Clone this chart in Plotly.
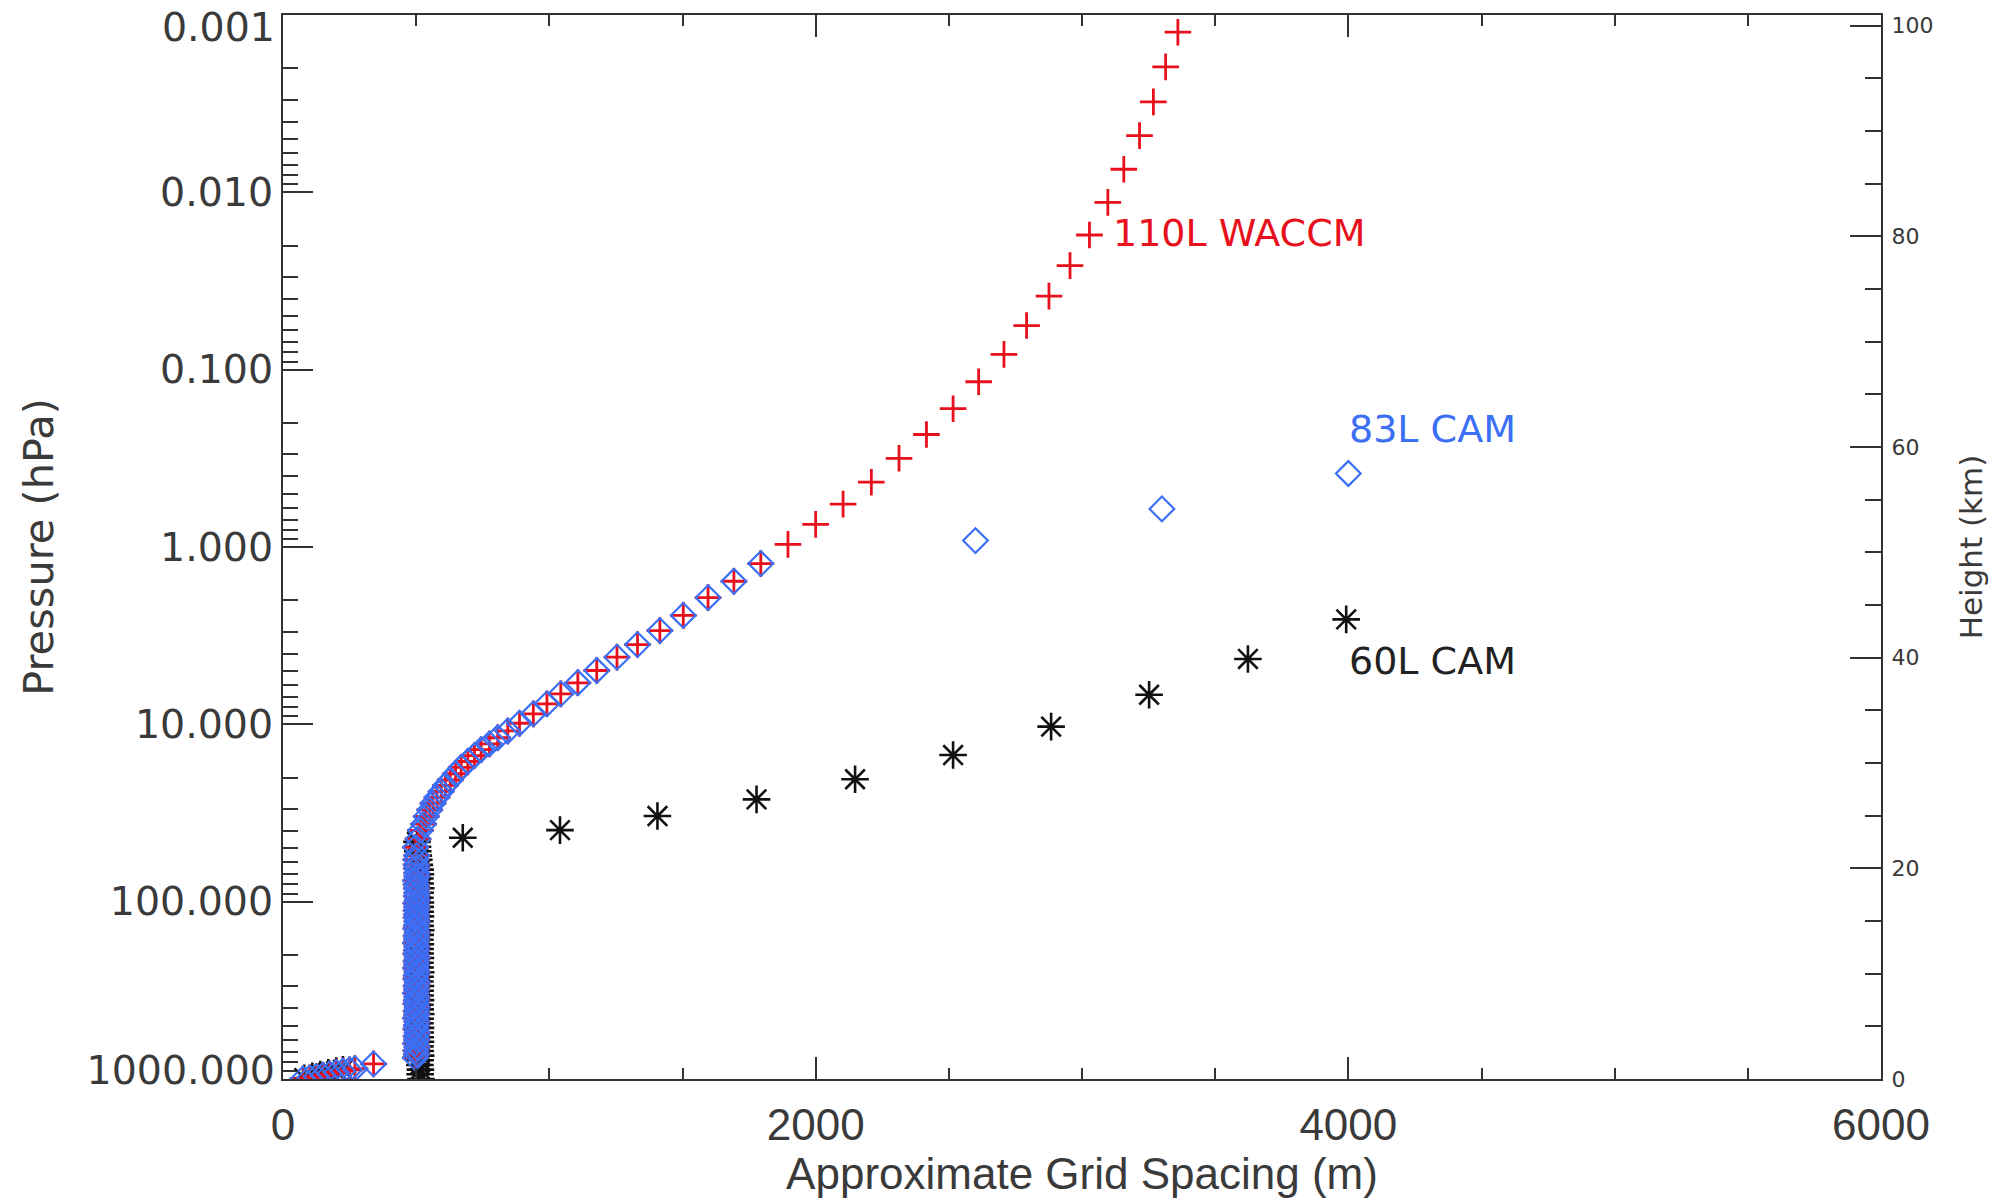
import math
import plotly.graph_objects as go

# ---------------- data ----------------
# levels shared by 110L WACCM and 83L CAM (surface -> ~1.2 hPa)
shared_x = [75, 100, 125, 150, 175, 200, 225, 250, 270, 340,
            497, 501, 499, 503, 498, 502, 500, 504, 499, 501,
            503, 498, 502, 500, 504, 499, 501, 503, 498, 502,
            500, 504, 499, 501, 503, 498, 502, 500, 504, 499,
            501, 503, 498, 502, 500, 504, 499, 501, 503, 500,
            502, 504, 501, 503, 500, 502,
            498, 507, 516, 528, 538, 551, 563, 578, 594, 610,
            628, 648, 669, 694, 719, 744, 775, 806, 844, 888,
            940, 991, 1043, 1107, 1178, 1254, 1331, 1415, 1503, 1596,
            1693, 1794]
shared_p = [1000, 985, 969, 952, 935, 918, 902, 887, 874, 822,
            760, 725, 692, 660, 630, 601, 574, 548, 523, 499,
            476, 454, 434, 414, 395, 377, 360, 344, 328, 313,
            299, 285, 272, 260, 248, 237, 226, 216, 206, 197,
            188, 179, 171, 163, 156, 149, 142, 136, 129, 123,
            118, 98, 84, 72, 62, 55,
            49.4, 44.3, 39.7, 36.5, 33.1, 30.4, 27.9, 25.8, 23.9, 22.1,
            20.6, 19.0, 17.5, 16.2, 15.0, 13.9, 12.9, 11.9, 10.9, 9.86,
            8.73, 7.66, 6.73, 5.83, 4.97, 4.18, 3.55, 2.96, 2.43, 1.93,
            1.56, 1.24]

# extra levels inside the 500 m band (upper troposphere / lower stratosphere)
band_x = [500, 502, 499, 501, 503, 500, 498, 502, 501, 499]
band_p = [112, 107, 102, 93, 89, 80, 76, 69, 65, 58]

# upper levels of 110L WACCM only
waccm_top_x = [1896, 2000, 2103, 2209, 2313, 2416, 2516, 2612, 2707, 2792,
               2876, 2955, 3028, 3097, 3157, 3216, 3268, 3314, 3360]
waccm_top_p = [0.966, 0.745, 0.573, 0.431, 0.316, 0.232, 0.166, 0.117, 0.082, 0.0564,
               0.0385, 0.0259, 0.0174, 0.0114, 0.00741, 0.00479, 0.00309, 0.00196, 0.00125]

# upper levels of 83L CAM only
cam83_top_x = [2600, 3300, 4000]
cam83_top_p = [0.92, 0.61, 0.385]

# 60L CAM
cam60_x = [80, 110, 140, 170, 200, 225,
           518, 515, 516, 514, 515, 517, 515, 514, 516, 515,
           515, 516, 514, 515, 517, 515, 514, 516, 515, 515,
           516, 514, 515, 517, 515, 514, 516, 515, 515, 516,
           514, 515, 517, 515, 514, 516, 515, 515, 516, 514,
           515, 517, 515, 514, 516, 515, 512, 510, 508, 506,
           505, 503,
           675, 1040, 1406, 1778, 2148, 2516, 2884, 3252, 3623, 3992]
cam60_p = [990, 966, 944, 922, 902, 886,
           1000, 940, 885, 833, 784, 738, 695, 655, 617, 581,
           547, 515, 485, 457, 430, 405, 381, 359, 338, 318,
           299, 282, 265, 250, 235, 221, 208, 196, 185, 174,
           164, 154, 145, 137, 129, 121, 114, 107, 101, 95,
           89, 84, 79, 74, 70, 66, 62, 58, 55, 52,
           49, 46,
           43.6, 39.5, 32.9, 26.5, 20.4, 14.9, 10.3, 6.81, 4.28, 2.56]

pressure_ticks = [0.001, 0.01, 0.1, 1, 10, 100, 1000]
pressure_ticktext = ["", "0.010", "0.100", "1.000", "10.000", "100.000", ""]
top_label = "0.001"
bottom_label = "1000.000"

labels = ["110L WACCM", "83L CAM", "60L CAM"]
label_x = [3110, 3995, 3995]
label_p = [0.0170, 0.217, 4.37]

# ---------------- styling ----------------
RED = "#e8101c"
BLUE = "#3b6ff5"
BLACK = "#111111"
AXIS = "#333333"
TXT = "#3a3a3a"
YFONT = dict(family="DejaVu Sans", size=39.5, color=TXT)

waccm_x = shared_x + band_x + waccm_top_x
waccm_p = shared_p + band_p + waccm_top_p
cam83_x = shared_x + band_x + cam83_top_x
cam83_p = shared_p + band_p + cam83_top_p

fig = go.Figure()
fig.add_trace(go.Scatter(x=cam60_x, y=cam60_p, mode="markers", name=labels[2],
                         marker=dict(symbol="asterisk-open", size=23, color=BLACK,
                                     line=dict(color=BLACK, width=2.6))))
fig.add_trace(go.Scatter(x=waccm_x, y=waccm_p, mode="markers", name=labels[0],
                         marker=dict(symbol="cross-thin-open", size=19, color=RED,
                                     line=dict(color=RED, width=2.8))))
fig.add_trace(go.Scatter(x=cam83_x, y=cam83_p, mode="markers", name=labels[1],
                         marker=dict(symbol="diamond-open", size=19, color=BLUE,
                                     line=dict(color=BLUE, width=2.2))))
# empty traces to activate the extra axes
for ax in ["y2", "y3", "y4"]:
    fig.add_trace(go.Scatter(x=[], y=[], yaxis=ax, showlegend=False, hoverinfo="skip"))

label_colors = [RED, BLUE, "#222222"]
for t, lx, lp, c in zip(labels, label_x, label_p, label_colors):
    fig.add_annotation(x=lx, y=math.log10(lp), xref="x", yref="y", text=t,
                       showarrow=False, xanchor="left", yanchor="middle",
                       font=dict(family="DejaVu Sans", size=38, color=c))

minor_p = [m * 10 ** k for k in range(-3, 3) for m in range(2, 10)]

edge_axis = dict(overlaying="y", side="left", type="log", range=[3, -3],
                 tickmode="array", ticks="", showline=False, showgrid=False,
                 zeroline=False, automargin=False, tickfont=YFONT,
                 ticklabelstandoff=7, ticklabeloverflow="allow")

fig.update_layout(
    width=2001, height=1198,
    margin=dict(l=283, r=120, t=15, b=119, autoexpand=False),
    paper_bgcolor="white", plot_bgcolor="white",
    showlegend=False,
    xaxis=dict(
        range=[0, 6000], tickmode="linear", tick0=0, dtick=2000,
        ticks="inside", ticklen=22, tickwidth=2, tickcolor=AXIS,
        minor=dict(tickmode="linear", tick0=0, dtick=500, ticks="inside",
                   ticklen=11, tickwidth=2, tickcolor=AXIS),
        showline=True, linecolor=AXIS, linewidth=2, mirror="ticks",
        showgrid=False, zeroline=False, automargin=False,
        tickfont=dict(family="Liberation Sans", size=44, color=TXT),
        ticklabelstandoff=6, ticklabeloverflow="allow",
        title=dict(text="Approximate Grid Spacing (m)", standoff=11,
                   font=dict(family="Liberation Sans", size=44, color=TXT)),
    ),
    yaxis=dict(
        type="log", range=[3, -3],
        tickmode="array", tickvals=pressure_ticks, ticktext=pressure_ticktext,
        ticks="inside", ticklen=30, tickwidth=2, tickcolor=AXIS,
        minor=dict(tickmode="array", tickvals=minor_p, ticks="inside",
                   ticklen=15, tickwidth=2, tickcolor=AXIS),
        showline=True, linecolor=AXIS, linewidth=2, mirror=False,
        showgrid=False, zeroline=False, automargin=False,
        tickfont=YFONT,
        ticklabelstandoff=0, ticklabeloverflow="allow",
        title=dict(text="Pressure (hPa)", standoff=43,
                   font=dict(family="DejaVu Sans", size=41.5, color=TXT)),
    ),
    yaxis3=dict(edge_axis, tickvals=[pressure_ticks[0]], ticktext=[top_label],
                ticklabelshift=-12),
    yaxis4=dict(edge_axis, tickvals=[pressure_ticks[-1]], ticktext=[bottom_label],
                ticklabelshift=9),
    yaxis2=dict(
        overlaying="y", side="right", range=[0, 101],
        tickmode="linear", tick0=0, dtick=20,
        ticks="inside", ticklen=31, tickwidth=2, tickcolor=AXIS,
        minor=dict(tickmode="linear", tick0=0, dtick=5, ticks="inside",
                   ticklen=16, tickwidth=2, tickcolor=AXIS),
        showline=True, linecolor=AXIS, linewidth=2,
        showgrid=False, zeroline=False, automargin=False,
        tickfont=dict(family="DejaVu Sans", size=22, color=TXT),
        ticklabelstandoff=4, ticklabeloverflow="allow",
        title=dict(text="Height (km)", standoff=28,
                   font=dict(family="DejaVu Sans", size=31, color=TXT)),
    ),
)

fig.write_html("out.html")
